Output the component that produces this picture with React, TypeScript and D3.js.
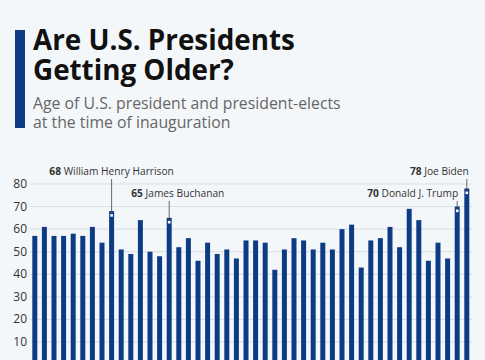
import React from "react";
import * as d3 from "d3";

const presidents = [
  "George Washington", "John Adams", "Thomas Jefferson", "James Madison", "James Monroe",
  "John Quincy Adams", "Andrew Jackson", "Martin Van Buren", "William Henry Harrison", "John Tyler",
  "James K. Polk", "Zachary Taylor", "Millard Fillmore", "Franklin Pierce", "James Buchanan",
  "Abraham Lincoln", "Andrew Johnson", "Ulysses S. Grant", "Rutherford B. Hayes", "James A. Garfield",
  "Chester A. Arthur", "Grover Cleveland", "Benjamin Harrison", "Grover Cleveland (2nd)", "William McKinley",
  "Theodore Roosevelt", "William Howard Taft", "Woodrow Wilson", "Warren G. Harding", "Calvin Coolidge",
  "Herbert Hoover", "Franklin D. Roosevelt", "Harry S. Truman", "Dwight D. Eisenhower", "John F. Kennedy",
  "Lyndon B. Johnson", "Richard Nixon", "Gerald Ford", "Jimmy Carter", "Ronald Reagan",
  "George H. W. Bush", "Bill Clinton", "George W. Bush", "Barack Obama", "Donald J. Trump", "Joe Biden",
];
const ages = [
  57, 61, 57, 57, 58, 57, 61, 54, 68, 51,
  49, 64, 50, 48, 65, 52, 56, 46, 54, 49,
  51, 47, 55, 55, 54, 42, 51, 56, 55, 51,
  54, 51, 60, 62, 43, 55, 56, 61, 52, 69,
  64, 46, 54, 47, 70, 78,
];
const yTicks = [10, 20, 30, 40, 50, 60, 70, 80];
const titleLines = ["Are U.S. Presidents", "Getting Older?"];
const subtitleLines = ["Age of U.S. president and president-elects", "at the time of inauguration"];

// annotations: index, label name, vertical label level, anchor mode, dx
const annotations = [
  { index: 8, name: "William Henry Harrison", level: 0, anchor: "middle", dx: 0 },
  { index: 14, name: "James Buchanan", level: 1, anchor: "start", dx: -38 },
  { index: 44, name: "Donald J. Trump", level: 1, anchor: "end", dx: 1 },
  { index: 45, name: "Joe Biden", level: 0, anchor: "end", dx: 2 },
];

const W = 485;
const H = 360;
const BLUE = "#0d3b84";
const FONT = "'Open Sans', sans-serif";

export default function App() {
  const x = d3
    .scaleBand<number>()
    .domain(d3.range(ages.length))
    .range([30, 471.6])
    .paddingInner(0.48)
    .paddingOuter(0.24);
  const y = d3.scaleLinear().domain([0, 80]).range([364.6, 184]);
  const levelY = [175, 197];

  return (
    <svg
      width={W}
      height={H}
      style={{ position: "absolute", left: 0, top: 0, background: "#f4f7fa" }}
      fontFamily={FONT}
    >
      <rect x={0} y={0} width={W} height={H} fill="#f4f7fa" />
      <rect x={15} y={30} width={10} height={98} fill={BLUE} />
      <text x={33} y={50} fontSize={27.8} fontWeight={700} fill="#111">
        {titleLines.map((l, i) => (
          <tspan key={i} x={33} dy={i === 0 ? 0 : 30}>
            {l}
          </tspan>
        ))}
      </text>
      <text x={33} y={109} fontSize={15.8} fill="#666">
        {subtitleLines.map((l, i) => (
          <tspan key={i} x={33} dy={i === 0 ? 0 : 19}>
            {l}
          </tspan>
        ))}
      </text>

      {yTicks.map((t) => (
        <g key={t}>
          <line x1={30} x2={472} y1={y(t)} y2={y(t)} stroke="#d9dde3" strokeWidth={1} />
          <text x={27} y={y(t) + 4} fontSize={12} fill="#333" textAnchor="end">
            {t}
          </text>
        </g>
      ))}

      {ages.map((a, i) => (
        <rect
          key={i}
          x={x(i)!}
          y={y(a)}
          width={x.bandwidth()}
          height={y(0) - y(a)}
          fill={BLUE}
        >
          <title>{presidents[i] + ": " + a}</title>
        </rect>
      ))}

      {annotations.map((an) => {
        const cx = x(an.index)! + x.bandwidth() / 2;
        const top = y(ages[an.index]);
        const ly = levelY[an.level];
        return (
          <g key={an.index}>
            <line x1={cx} x2={cx} y1={ly + 4} y2={top + 3} stroke="#444" strokeWidth={0.8} />
            <rect x={cx - 1.3} y={top + 3} width={2.6} height={2.6} fill="#fff" />
            <text x={cx + an.dx} y={ly} fontSize={10.2} fill="#333" textAnchor={an.anchor as any}>
              <tspan fontWeight={700}>{ages[an.index]}</tspan>
              <tspan> {an.name}</tspan>
            </text>
          </g>
        );
      })}
    </svg>
  );
}
